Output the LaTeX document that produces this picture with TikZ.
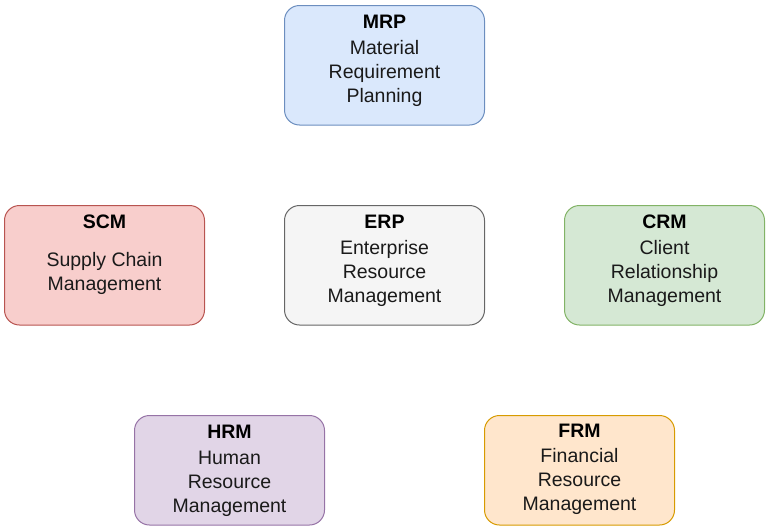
\documentclass[tikz,border=0pt]{standalone}
\usepackage{fontspec}
\setmainfont{Liberation Sans}
\definecolor{bluefill}{HTML}{DAE8FC}\definecolor{bluedraw}{HTML}{6C8EBF}
\definecolor{redfill}{HTML}{F8CECC}\definecolor{reddraw}{HTML}{B85450}
\definecolor{grayfill}{HTML}{F5F5F5}\definecolor{graydraw}{HTML}{666666}
\definecolor{greenfill}{HTML}{D5E8D4}\definecolor{greendraw}{HTML}{82B366}
\definecolor{purplefill}{HTML}{E1D5E7}\definecolor{purpledraw}{HTML}{9673A6}
\definecolor{orangefill}{HTML}{FFE6CC}\definecolor{orangedraw}{HTML}{D79B00}
\definecolor{txt}{HTML}{1A1A1A}
\begin{document}
\begin{tikzpicture}[x=1pt,y=-1pt,
  box/.style={rounded corners=15pt,line width=1pt},
  ttl/.style={anchor=base,inner sep=0pt,font=\fontsize{19.5}{24}\selectfont\bfseries,text=black},
  ln/.style={anchor=base,inner sep=0pt,font=\fontsize{19.5}{24}\selectfont,text=txt}]
\useasboundingbox (0,0) rectangle (767,530);
% boxes
\draw[box,fill=bluefill,draw=bluedraw] (284.5,5.5) rectangle (484.5,125);
\draw[box,fill=redfill,draw=reddraw] (4.5,205.5) rectangle (204.5,325);
\draw[box,fill=grayfill,draw=graydraw] (284.5,205.5) rectangle (484.5,325);
\draw[box,fill=greenfill,draw=greendraw] (564.5,205.5) rectangle (764.5,325);
\draw[box,fill=purplefill,draw=purpledraw] (134.5,415.5) rectangle (324.5,525);
\draw[box,fill=orangefill,draw=orangedraw] (484.5,415.5) rectangle (674.5,525);
% MRP
\node[ttl] (mrpt) at (384.5,28) {MRP};
\node[ln] (mrp1) at (384.5,54) {Material};
\node[ln] (mrp2) at (384.5,78) {Requirement};
\node[ln] (mrp3) at (384.5,102) {Planning};
% SCM
\node[ttl] (scmt) at (104.5,228) {SCM};
\node[ln] (scm1) at (104.5,266) {Supply Chain};
\node[ln] (scm2) at (104.5,290) {Management};
% ERP
\node[ttl] (erpt) at (384.5,228) {ERP};
\node[ln] (erp1) at (384.5,254) {Enterprise};
\node[ln] (erp2) at (384.5,278) {Resource};
\node[ln] (erp3) at (384.5,302) {Management};
% CRM
\node[ttl] (crmt) at (664.5,228) {CRM};
\node[ln] (crm1) at (664.5,254) {Client};
\node[ln] (crm2) at (664.5,278) {Relationship};
\node[ln] (crm3) at (664.5,302) {Management};
% HRM
\node[ttl] (hrmt) at (229.5,438) {HRM};
\node[ln] (hrm1) at (229.5,464) {Human};
\node[ln] (hrm2) at (229.5,488) {Resource};
\node[ln] (hrm3) at (229.5,512) {Management};
% FRM
\node[ttl] (frmt) at (579.5,437) {FRM};
\node[ln] (frm1) at (579.5,462) {Financial};
\node[ln] (frm2) at (579.5,486) {Resource};
\node[ln] (frm3) at (579.5,510) {Management};
\end{tikzpicture}
\end{document}
